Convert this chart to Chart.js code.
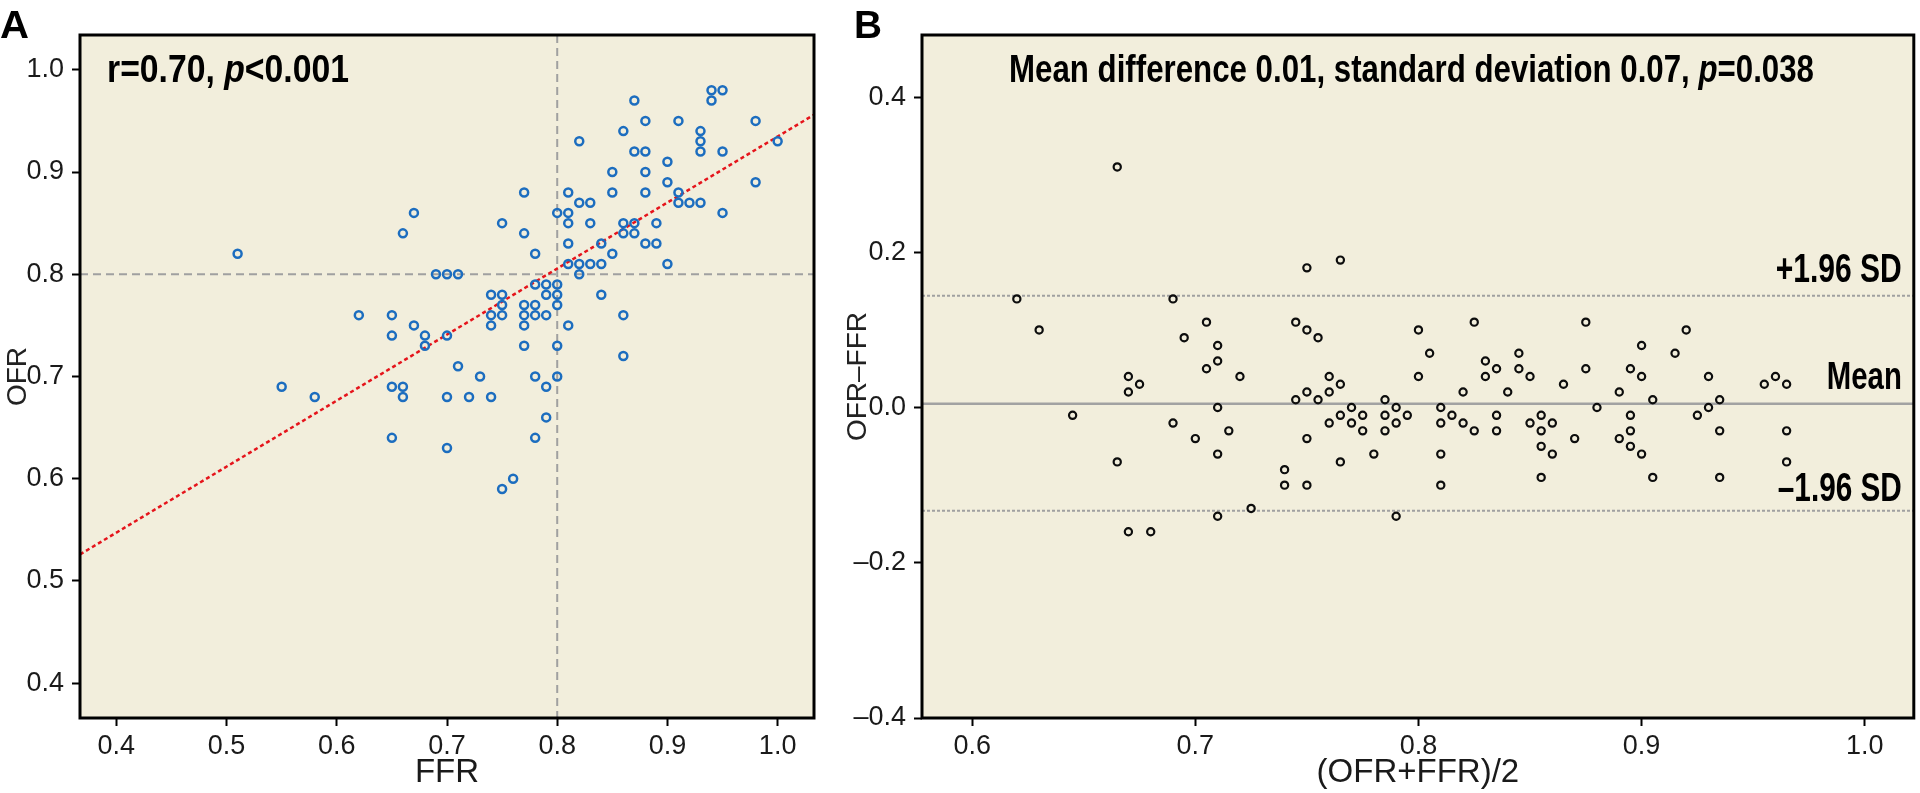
<!DOCTYPE html>
<html>
<head>
<meta charset="utf-8">
<script src="https://cdn.jsdelivr.net/npm/chart.js@4.4.0/dist/chart.umd.min.js"></script>
<style>
  html, body { margin: 0; padding: 0; background: #fff; width: 1920px; height: 793px; overflow: hidden; }
  #wrapA { position: absolute; left: 0; top: 0; width: 830px; height: 793px; }
  #wrapB { position: absolute; left: 840px; top: 0; width: 1080px; height: 793px; }
</style>
</head>
<body>
<div id="wrapA"><canvas id="chartA"></canvas></div>
<div id="wrapB"><canvas id="chartB"></canvas></div>
<script>
// panel A: FFR vs OFR
const ffr = [0.51,0.66,0.67,0.75,0.69,0.70,0.71,0.74,0.75,0.75,
  0.74,0.75,0.74,0.62,0.65,0.67,0.94,0.95,0.94,0.87,
  0.88,0.91,0.98,0.86,0.93,0.93,0.93,0.82,1.00,0.87,
  0.88,0.95,0.90,0.85,0.88,0.90,0.98,0.77,0.81,0.85,
  0.88,0.91,0.82,0.83,0.91,0.92,0.93,0.80,0.81,0.95,
  0.81,0.83,0.86,0.87,0.89,0.77,0.86,0.87,0.81,0.84,
  0.88,0.89,0.78,0.85,0.81,0.82,0.83,0.84,0.90,0.78,
  0.79,0.80,0.79,0.80,0.84,0.77,0.78,0.80,0.77,0.78,
  0.79,0.86,0.77,0.81,0.65,0.68,0.68,0.70,0.71,0.73,
  0.55,0.58,0.65,0.66,0.66,0.70,0.72,0.74,0.65,0.70,
  0.75,0.76,0.77,0.80,0.86,0.78,0.80,0.79,0.79,0.78,
  0.82];
const ofr = [0.82,0.84,0.86,0.85,0.80,0.80,0.80,0.78,0.78,0.77,
  0.76,0.76,0.75,0.76,0.76,0.75,0.98,0.98,0.97,0.97,
  0.95,0.95,0.95,0.94,0.94,0.93,0.92,0.93,0.93,0.92,
  0.92,0.92,0.91,0.90,0.90,0.89,0.89,0.88,0.88,0.88,
  0.88,0.88,0.87,0.87,0.87,0.87,0.87,0.86,0.86,0.86,
  0.85,0.85,0.85,0.85,0.85,0.84,0.84,0.84,0.83,0.83,
  0.83,0.83,0.82,0.82,0.81,0.81,0.81,0.81,0.81,0.79,
  0.79,0.79,0.78,0.78,0.78,0.77,0.77,0.77,0.76,0.76,
  0.76,0.76,0.75,0.75,0.74,0.74,0.73,0.74,0.71,0.70,
  0.69,0.68,0.69,0.69,0.68,0.68,0.68,0.68,0.64,0.63,
  0.59,0.60,0.73,0.73,0.72,0.70,0.70,0.69,0.66,0.64,
  0.80];
// fitted line, read at the frame edges
const regFfr = [0.367, 1.033];
const regOfr = [0.526, 0.956];
const cutoffFfr = 0.8;
const cutoffOfr = 0.8;
const ticksA = [0.4, 0.5, 0.6, 0.7, 0.8, 0.9, 1.0];
const tickLabelsA = ['0.4', '0.5', '0.6', '0.7', '0.8', '0.9', '1.0'];

// panel B: Bland-Altman
const baMean = [0.665,0.62,0.69,0.63,0.705,0.695,0.71,0.71,0.705,0.72,
  0.67,0.675,0.67,0.71,0.645,0.69,0.70,0.715,0.71,0.665,
  0.725,0.71,0.67,0.68,
  0.75,0.765,0.745,0.75,0.755,0.80,0.805,0.825,0.80,0.76,
  0.765,0.76,0.75,0.745,0.755,0.77,0.765,0.775,0.76,0.77,
  0.775,0.75,0.765,0.78,0.74,0.74,0.75,0.79,0.785,0.79,
  0.785,0.795,0.79,0.785,0.81,0.815,0.81,0.82,0.82,0.825,
  0.81,0.81,0.83,0.83,0.835,0.84,0.845,0.845,0.85,0.835,
  0.835,0.85,
  0.875,0.92,0.90,0.915,0.865,0.875,0.895,0.90,0.89,0.905,
  0.88,0.93,0.935,0.93,0.925,0.935,0.935,0.955,0.96,0.965,
  0.965,0.965,0.855,0.855,0.86,0.855,0.86,0.855,0.87,0.89,
  0.895,0.895,0.895,0.90,0.905];
const baDiff = [0.31,0.14,0.14,0.10,0.11,0.09,0.08,0.06,0.05,0.04,
  0.04,0.03,0.02,0.00,-0.01,-0.02,-0.04,-0.03,-0.06,-0.07,
  -0.13,-0.14,-0.16,-0.16,
  0.18,0.19,0.11,0.10,0.09,0.10,0.07,0.11,0.04,0.04,
  0.03,0.02,0.02,0.01,0.01,0.00,-0.01,-0.01,-0.02,-0.02,
  -0.03,-0.04,-0.07,-0.06,-0.08,-0.10,-0.10,-0.14,0.01,0.00,
  -0.01,-0.01,-0.02,-0.03,0.00,-0.01,-0.02,0.02,-0.02,-0.03,
  -0.06,-0.10,0.06,0.04,0.05,0.02,0.07,0.05,0.04,-0.01,
  -0.03,-0.02,
  0.11,0.10,0.08,0.07,0.03,0.05,0.05,0.04,0.02,0.01,
  0.00,0.04,0.01,0.00,-0.01,-0.03,-0.09,0.03,0.04,0.03,
  -0.03,-0.07,-0.01,-0.03,-0.02,-0.05,-0.06,-0.09,-0.04,-0.04,
  -0.01,-0.03,-0.05,-0.06,-0.09];
const meanDiff = 0.005;
const upperLoa = 0.144;
const lowerLoa = -0.133;
const ticksBx = [0.6, 0.7, 0.8, 0.9, 1.0];
const tickLabelsBx = ['0.6', '0.7', '0.8', '0.9', '1.0'];
const ticksBy = [-0.4, -0.2, 0.0, 0.2, 0.4];
const tickLabelsBy = ['\u20130.4', '\u20130.2', '0.0', '0.2', '0.4'];

const NARROW = '"Liberation Sans Narrow", "Liberation Sans", Arial, sans-serif';
const WIDE = '"Liberation Sans", Arial, sans-serif';
const BG = '#f2eedc';

// bold condensed text, squeezed to the width it has in the figure
function drawFitted(ctx, parts, x, baseline, width, size, align) {
  let total = 0;
  parts.forEach(p => {
    ctx.font = (p.italic ? 'italic ' : '') + 'bold ' + size + 'px ' + NARROW;
    p.w = ctx.measureText(p.t).width;
    total += p.w;
  });
  const k = width / total;
  ctx.save();
  ctx.translate(align === 'right' ? x - width : x, baseline);
  ctx.scale(k, 1);
  ctx.fillStyle = '#000';
  ctx.textBaseline = 'alphabetic';
  ctx.textAlign = 'left';
  let cx = 0;
  parts.forEach(p => {
    ctx.font = (p.italic ? 'italic ' : '') + 'bold ' + size + 'px ' + NARROW;
    ctx.fillText(p.t, cx, 0);
    cx += p.w;
  });
  ctx.restore();
}

function xScale(min, max, ticks, labels, title) {
  return {
    type: 'linear', position: 'bottom', min, max,
    afterBuildTicks: s => { s.ticks = ticks.map(v => ({ value: v })); },
    afterFit: s => { s.height = 75; },
    ticks: {
      callback: (v, i) => labels[i],
      font: { family: NARROW, size: 27 }, color: '#1a1a1a',
      padding: 4, maxRotation: 0, autoSkip: false
    },
    grid: { drawOnChartArea: false, drawTicks: true, tickLength: 8, tickWidth: 2, tickColor: '#000' },
    border: { display: false },
    title: { display: true, text: title, color: '#1a1a1a',
      font: { family: NARROW, size: 33 }, padding: { top: 0, bottom: 0 } }
  };
}

function yScale(min, max, ticks, labels, title, width) {
  return {
    type: 'linear', position: 'left', min, max,
    afterBuildTicks: s => { s.ticks = ticks.map(v => ({ value: v })); },
    afterFit: s => { s.width = width; },
    ticks: {
      callback: (v, i) => labels[i],
      font: { family: NARROW, size: 27 }, color: '#1a1a1a',
      padding: 8, autoSkip: false
    },
    grid: { drawOnChartArea: false, drawTicks: true, tickLength: 8, tickWidth: 2, tickColor: '#000' },
    border: { display: false },
    title: { display: true, text: title, color: '#222',
      font: { family: WIDE, size: 28 }, padding: { top: 1, bottom: 0 } }
  };
}

function frame(chart) {
  const { ctx, chartArea: a } = chart;
  ctx.save();
  ctx.strokeStyle = '#000';
  ctx.lineWidth = 3;
  ctx.strokeRect(a.left, a.top, a.right - a.left, a.bottom - a.top);
  ctx.restore();
}

const panelA = {
  id: 'panelA',
  beforeDraw(chart) {
    const { ctx, chartArea: a } = chart;
    ctx.save();
    ctx.fillStyle = BG;
    ctx.fillRect(a.left, a.top, a.right - a.left, a.bottom - a.top);
    ctx.restore();
  },
  beforeDatasetsDraw(chart) {
    const { ctx, chartArea: a, scales: { x, y } } = chart;
    const px = x.getPixelForValue(cutoffFfr);
    const py = y.getPixelForValue(cutoffOfr);
    ctx.save();
    ctx.strokeStyle = '#a0a0a0';
    ctx.lineWidth = 2;
    ctx.setLineDash([8, 5]);
    ctx.beginPath();
    ctx.moveTo(px, a.top); ctx.lineTo(px, a.bottom);
    ctx.moveTo(a.left, py); ctx.lineTo(a.right, py);
    ctx.stroke();
    ctx.restore();
  },
  afterDraw(chart) {
    const { ctx, chartArea: a } = chart;
    frame(chart);
    drawFitted(ctx, [{ t: 'r=0.70, ' }, { t: 'p', italic: true }, { t: '<0.001' }],
      a.left + 27, 82, 242, 38);
    drawFitted(ctx, [{ t: 'A' }], 0, 38, 29, 39);
  }
};

const panelB = {
  id: 'panelB',
  beforeDraw(chart) {
    const { ctx, chartArea: a } = chart;
    ctx.save();
    ctx.fillStyle = BG;
    ctx.fillRect(a.left, a.top, a.right - a.left, a.bottom - a.top);
    ctx.restore();
  },
  beforeDatasetsDraw(chart) {
    const { ctx, chartArea: a, scales: { y } } = chart;
    ctx.save();
    ctx.lineWidth = 2.5;
    ctx.strokeStyle = '#a2a2a2';
    const pm = y.getPixelForValue(meanDiff);
    ctx.beginPath(); ctx.moveTo(a.left, pm); ctx.lineTo(a.right, pm); ctx.stroke();
    ctx.lineWidth = 2;
    ctx.strokeStyle = '#a0a0a0';
    ctx.setLineDash([3, 2]);
    [upperLoa, lowerLoa].forEach(v => {
      const p = y.getPixelForValue(v);
      ctx.beginPath(); ctx.moveTo(a.left, p); ctx.lineTo(a.right, p); ctx.stroke();
    });
    ctx.restore();
  },
  afterDraw(chart) {
    const { ctx, chartArea: a, scales: { y } } = chart;
    frame(chart);
    drawFitted(ctx, [{ t: 'Mean difference 0.01, standard deviation 0.07, ' },
      { t: 'p', italic: true }, { t: '=0.038' }], a.left + 87, 82, 805, 39);
    drawFitted(ctx, [{ t: '+1.96 SD' }], a.right - 12, y.getPixelForValue(upperLoa) - 14, 126, 40, 'right');
    drawFitted(ctx, [{ t: 'Mean' }], a.right - 12, y.getPixelForValue(meanDiff) - 15, 75, 39, 'right');
    drawFitted(ctx, [{ t: '\u20131.96 SD' }], a.right - 12, y.getPixelForValue(lowerLoa) - 10, 124, 41, 'right');
    drawFitted(ctx, [{ t: 'B' }], 14, 38, 28, 39);
  }
};

Chart.defaults.animation = false;

new Chart(document.getElementById('chartA'), {
  type: 'scatter',
  data: {
    datasets: [
      {
        data: ffr.map((v, i) => ({ x: v, y: ofr[i] })),
        pointRadius: 4, pointBorderWidth: 2.5,
        pointBorderColor: '#1c6dbf', pointBackgroundColor: 'rgba(0,0,0,0)'
      },
      {
        data: regFfr.map((v, i) => ({ x: v, y: regOfr[i] })),
        showLine: true, pointRadius: 0, borderColor: '#e5141b',
        borderWidth: 2.5, borderDash: [4, 3]
      }
    ]
  },
  options: {
    responsive: true, maintainAspectRatio: false, devicePixelRatio: 1,
    layout: { padding: { left: 0, right: 16, top: 35, bottom: 0 } },
    plugins: { legend: { display: false }, tooltip: { enabled: false } },
    scales: {
      x: xScale(0.367, 1.033, ticksA, tickLabelsA, 'FFR'),
      y: yScale(0.366, 1.034, ticksA, tickLabelsA, 'OFR', 80)
    }
  },
  plugins: [panelA]
});

new Chart(document.getElementById('chartB'), {
  type: 'scatter',
  data: {
    datasets: [
      {
        data: baMean.map((v, i) => ({ x: v, y: baDiff[i] })),
        pointRadius: 3.6, pointBorderWidth: 2.2,
        pointBorderColor: '#0d0d0d', pointBackgroundColor: 'rgba(0,0,0,0)'
      }
    ]
  },
  options: {
    responsive: true, maintainAspectRatio: false, devicePixelRatio: 1,
    layout: { padding: { left: 0, right: 2, top: 35, bottom: 0 } },
    plugins: { legend: { display: false }, tooltip: { enabled: false } },
    scales: {
      x: xScale(0.5775, 1.022, ticksBx, tickLabelsBx, '(OFR+FFR)/2'),
      y: yScale(-0.4, 0.48, ticksBy, tickLabelsBy, 'OFR\u2013FFR', 82)
    }
  },
  plugins: [panelB]
});
</script>
</body>
</html>
